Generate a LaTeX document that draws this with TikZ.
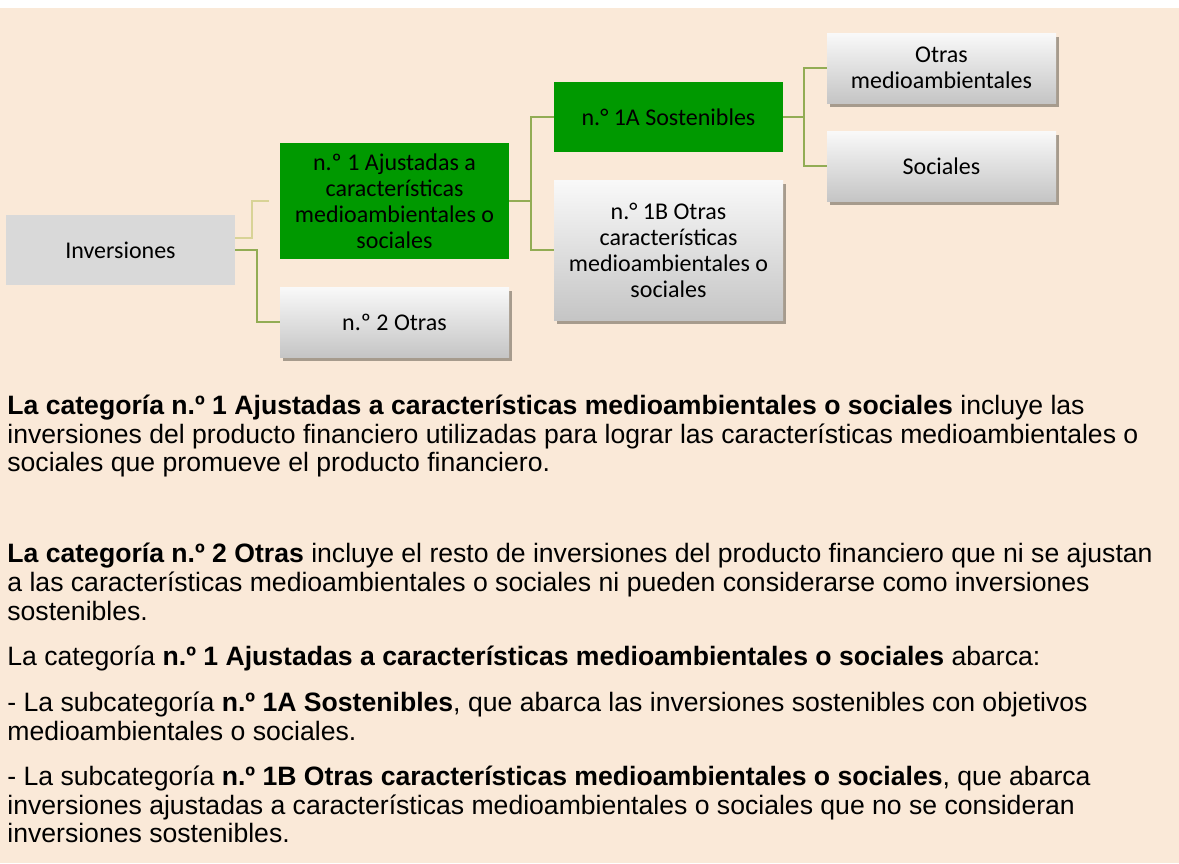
\documentclass[tikz,border=0pt]{standalone}
\usepackage{fontspec}
\setmainfont{Liberation Sans}
\newfontfamily\calib{Carlito}
\usetikzlibrary{shadows}
\definecolor{bg}{RGB}{250,233,216}
\definecolor{grn}{RGB}{0,153,0}
\definecolor{lgray}{RGB}{217,217,217}
\definecolor{gtop}{RGB}{249,249,249}
\definecolor{gbot}{RGB}{197,197,197}
\definecolor{shd}{RGB}{166,155,141}
\definecolor{olive}{RGB}{146,172,84}
\definecolor{khaki}{RGB}{216,211,150}
\begin{document}
\begin{tikzpicture}[
    x=0.5pt, y=-0.5pt,
    font=\calib\fontsize{12}{13}\selectfont,
    cell/.style={rectangle,minimum width=114.5pt,minimum height=35pt,inner sep=0pt,align=center},
    flat/.style={cell,fill=lgray},
    sel/.style={cell,fill=grn},
    grad/.style={cell,top color=gtop,bottom color=gbot,
        drop shadow={shadow xshift=1.5pt,shadow yshift=-2.2pt,fill=shd,opacity=1}},
    lnk/.style={draw=olive,line width=1pt},
    pale/.style={draw=khaki,line width=1pt},
    txt/.style={anchor=base west,align=left,inner sep=0pt,
        font=\normalfont\fontsize{13.3}{14.3}\selectfont}
]
    \useasboundingbox (0,0) rectangle (1179,863);
    \fill[bg] (0,0) rectangle (1179,863);
    \fill[white] (0,0) rectangle (1179,8);

    \node[flat] (inv) at (120.5,250) {Inversiones};
    \node[sel,minimum height=58pt] (c1) at (394.5,201)
        {n.º 1 Ajustadas a\\características\\medioambientales o\\sociales};
    \node[grad] (c2) at (394.5,322) {n.º 2 Otras};
    \node[sel] (s1a) at (668.5,117) {n.° 1A Sostenibles};
    \node[grad,minimum height=70pt] (s1b) at (668.5,250)
        {n.° 1B Otras\\características\\medioambientales o\\sociales};
    \node[grad] (otr) at (941.5,68) {Otras\\medioambientales};
    \node[grad] (soc) at (941.5,166) {Sociales};

    \coordinate (gap) at (269,201);
    \draw[pale] ([yshift=6pt]inv.east) -- ++(17,0) |- (gap);
    \draw[lnk] (inv.east) -- ++(22,0) |- (c2.west);
    \draw[lnk] (c1.east) -- ++(22,0) |- (s1a.west);
    \draw[lnk] (c1.east) -- ++(22,0) |- (s1b.west);
    \draw[lnk] (s1a.east) -- ++(21,0) |- (otr.west);
    \draw[lnk] (s1a.east) -- ++(21,0) |- (soc.west);

    % paragraphs: base is the baseline of the last line
    \node[txt] (p1) at (7,471.7)
        {\textbf{La categoría n.º 1 Ajustadas a características medioambientales o sociales} incluye las\\
        inversiones del producto financiero utilizadas para lograr las características medioambientales o\\
        sociales que promueve el producto financiero.};
    \node[txt] (p2) at (7,620)
        {\textbf{La categoría n.º 2 Otras} incluye el resto de inversiones del producto financiero que ni se ajustan\\
        a las características medioambientales o sociales ni pueden considerarse como inversiones\\
        sostenibles.};
    \node[txt] (p3) at (7,665)
        {La categoría \textbf{n.º 1 Ajustadas a características medioambientales o sociales} abarca:};
    \node[txt] (p4) at (7,740)
        {- La subcategoría \textbf{n.º 1A Sostenibles}, que abarca las inversiones sostenibles con objetivos\\
        medioambientales o sociales.};
    \node[txt] (p5) at (7,842.7)
        {- La subcategoría \textbf{n.º 1B Otras características medioambientales o sociales}, que abarca\\
        inversiones ajustadas a características medioambientales o sociales que no se consideran\\
        inversiones sostenibles.};
\end{tikzpicture}
\end{document}
